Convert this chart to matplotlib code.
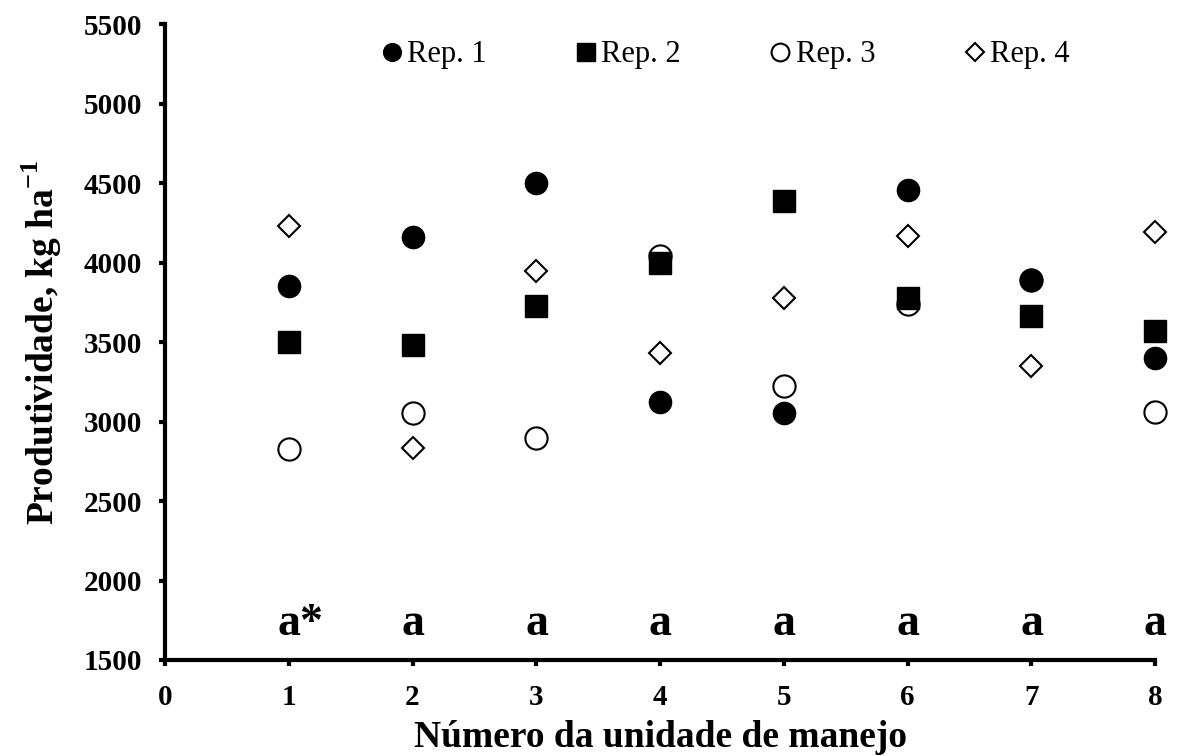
import matplotlib
matplotlib.use('Agg')
import matplotlib.pyplot as plt

plt.rcParams['font.family'] = ['Liberation Serif', 'DejaVu Serif']
plt.rcParams['mathtext.fontset'] = 'custom'
plt.rcParams['mathtext.bf'] = 'Liberation Serif:bold'
plt.rcParams['mathtext.rm'] = 'Liberation Serif'

unidades = [1, 2, 3, 4, 5, 6, 7, 8]
rep1 = [3856, 4159, 4500, 3121, 3053, 4456, 3892, 3397]
rep2 = [3500, 3483, 3727, 3997, 4389, 3776, 3667, 3571]
rep3 = [2827, 3053, 2896, 4040, 3222, 3739, 3890, 3063]
rep4 = [4232, 2831, 3945, 3429, 3780, 4165, 3350, 4190]
letras = ['a*', 'a', 'a', 'a', 'a', 'a', 'a', 'a']

fig = plt.figure(figsize=(11.82, 7.56), dpi=100)
ax = fig.add_axes([0.1396, 0.127, 0.8376, 0.841])

ax.plot(unidades, rep3, 'o', ms=16, mfc='white', mec='black', mew=1.5,
        ls='none', label='Rep. 3', zorder=2, clip_on=False)
ax.plot(unidades, rep1, 'o', ms=16, color='black', ls='none',
        label='Rep. 1', zorder=4, clip_on=False)
ax.plot(unidades, rep2, 's', ms=16, color='black', ls='none',
        label='Rep. 2', zorder=3, clip_on=False)
ax.plot(unidades, rep4, 'D', ms=11, mfc='white', mec='black', mew=1.5,
        ls='none', label='Rep. 4', zorder=5, clip_on=False)

for x, txt in zip(unidades, letras):
    ax.annotate(txt, (x, 1655), xytext=(-8, 0), textcoords='offset points',
                ha='left', va='baseline', fontsize=33, fontweight='bold')

ax.set_xlim(0, 8)
ax.set_ylim(1500, 5500)
ax.set_xticks(range(0, 9))
ax.set_yticks(range(1500, 5501, 500))

for s in ['top', 'right']:
    ax.spines[s].set_visible(False)
for s in ['left', 'bottom']:
    ax.spines[s].set_linewidth(3)
ax.tick_params(width=3, length=4.5, labelsize=21, direction='out')
ax.tick_params(axis='y', pad=12)
ax.tick_params(axis='x', pad=13)
for lab in ax.get_xticklabels() + ax.get_yticklabels():
    lab.set_fontweight('bold')

ax.set_xlabel('Número da unidade de manejo', fontsize=27,
              fontweight='bold', labelpad=6)
ax.set_ylabel(r'Produtividade, kg ha$^{\mathbf{-1}}$', fontsize=27,
              fontweight='bold', labelpad=14)

h, l = ax.get_legend_handles_labels()
order = [1, 2, 0, 3]
leg = ax.legend([h[i] for i in order], [l[i] for i in order], ncol=4,
                loc='center', bbox_to_anchor=(0.566, 0.952), frameon=False,
                fontsize=22, markerscale=0.8, handlelength=0.7,
                handletextpad=0.15, columnspacing=2.9)

fig.savefig('out.png', dpi=100)
